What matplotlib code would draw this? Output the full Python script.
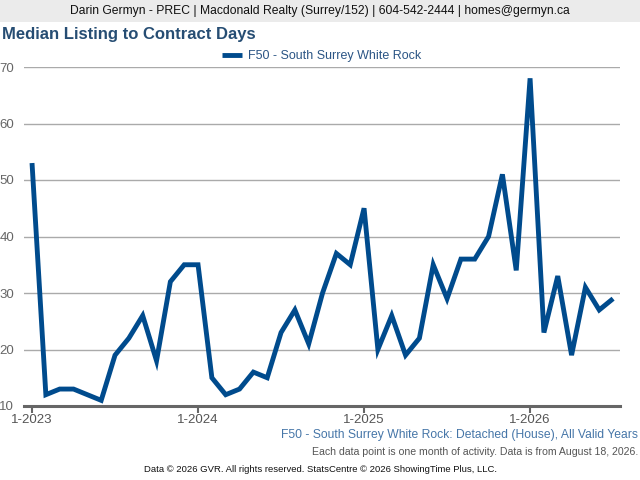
import matplotlib.pyplot as plt
from matplotlib.patches import Rectangle

plt.rcParams['font.family'] = ['Liberation Sans', 'DejaVu Sans']

# monthly values, 1-2023 .. 7-2026
months = list(range(43))
days = [53, 12, 13, 13, 12, 11, 19, 22, 26, 18, 32, 35,
        35, 15, 12, 13, 16, 15, 23, 27, 21, 30, 37, 35,
        45, 20, 26, 19, 22, 35, 29, 36, 36, 40, 51, 34,
        68, 23, 33, 19, 31, 27, 29]
tick_pos = [0, 12, 24, 36]
tick_labels = ['1-2023', '1-2024', '1-2025', '1-2026']
series_name = 'F50 - South Surrey White Rock'

fig = plt.figure(figsize=(6.4, 4.8), dpi=100)

# top banner
fig.patches.append(Rectangle((0, 1 - 22 / 480), 1, 22 / 480, transform=fig.transFigure,
                             facecolor='#ebebeb', edgecolor='none', zorder=0))
fig.text(0.5, 1 - 11 / 480, 'Darin Germyn - PREC | Macdonald Realty (Surrey/152) | 604-542-2444 | homes@germyn.ca',
         ha='center', va='center', fontsize=8.75, color='#111111')
fig.text(2 / 640, 1 - 34 / 480, 'Median Listing to Contract Days', ha='left', va='center',
         fontsize=12, fontweight='bold', color='#264d73')

ax = fig.add_axes([24 / 640, 1 - 406 / 480, 596 / 640, 339 / 480])
ax.plot(months, days, color='#004b8d', linewidth=3.5, solid_joinstyle='miter',
        solid_capstyle='butt', label=series_name)

ax.set_xlim(-0.58, 42.5)
ax.set_ylim(10, 70)
ax.set_yticks(range(10, 71, 10))
ax.set_xticks(tick_pos)
ax.set_xticklabels(tick_labels)
ax.grid(axis='y', color='#aaaaaa', linewidth=1)
ax.set_axisbelow(True)
for side in ['top', 'right', 'left']:
    ax.spines[side].set_visible(False)
ax.spines['bottom'].set_color('#666666')
ax.spines['bottom'].set_linewidth(2.2)
ax.tick_params(axis='y', length=0, pad=7, labelsize=9.5, labelcolor='#666666')
ax.tick_params(axis='x', length=5, width=1.5, color='#666666', pad=1,
               labelsize=9.5, labelcolor='#555555')

leg = ax.legend(loc='lower center', bbox_to_anchor=(0.5, 1.0), frameon=False,
                fontsize=9, handlelength=1.6, handletextpad=0.5, borderaxespad=0.0)
for t in leg.get_texts():
    t.set_color('#2b5585')

fig.text(638 / 640, 1 - 435 / 480, 'F50 - South Surrey White Rock: Detached (House), All Valid Years',
         ha='right', va='center', fontsize=8.75, color='#4676a8')
fig.text(638 / 640, 1 - 452 / 480, 'Each data point is one month of activity. Data is from August 18, 2026.',
         ha='right', va='center', fontsize=7.55, color='#555555')
fig.text(0.5, 1 - 469 / 480, 'Data \u00a9 2026 GVR. All rights reserved. StatsCentre \u00a9 2026 ShowingTime Plus, LLC.',
         ha='center', va='center', fontsize=6.8, color='#111111')

fig.savefig('out.png', dpi=100)
